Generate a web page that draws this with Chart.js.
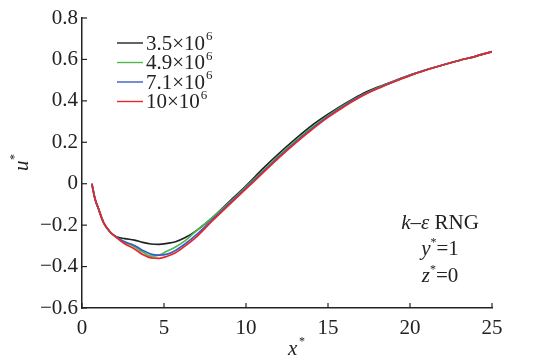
<!DOCTYPE html>
<html>
<head>
<meta charset="utf-8">
<script src="https://cdn.jsdelivr.net/npm/chart.js@4"></script>
<style>
  html, body { margin: 0; padding: 0; background: #fff; }
  #wrap { width: 542px; height: 364px; }
</style>
</head>
<body>
<div id="wrap"><canvas id="chart-u"></canvas></div>
<script>
// u* along x* for four Reynolds numbers (k-eps RNG, y*=1, z*=0)
const xStar = [0.6, 0.8, 1.0, 1.3, 1.7, 2.1, 2.6, 3.2, 3.7, 4.2, 4.7, 5.2, 5.7, 6.3, 7, 8, 9, 10, 11, 12, 13, 14, 15, 16, 17, 18, 19, 20, 21, 22, 23, 24, 25];
const uBlack = [0, -0.075, -0.12, -0.185, -0.232, -0.256, -0.265, -0.272, -0.283, -0.291, -0.293, -0.288, -0.28, -0.26, -0.225, -0.16, -0.085, -0.01, 0.07, 0.145, 0.215, 0.28, 0.335, 0.385, 0.43, 0.465, 0.495, 0.525, 0.55, 0.573, 0.595, 0.615, 0.638];
const uGreen = [0, -0.075, -0.12, -0.185, -0.232, -0.258, -0.282, -0.304, -0.33, -0.35, -0.345, -0.325, -0.305, -0.275, -0.225, -0.16, -0.09, -0.015, 0.06, 0.135, 0.205, 0.27, 0.328, 0.38, 0.425, 0.462, 0.494, 0.524, 0.55, 0.573, 0.595, 0.615, 0.638];
const uBlue = [0, -0.075, -0.12, -0.185, -0.232, -0.258, -0.28, -0.298, -0.322, -0.34, -0.345, -0.34, -0.322, -0.29, -0.245, -0.17, -0.095, -0.02, 0.055, 0.13, 0.2, 0.265, 0.325, 0.377, 0.423, 0.46, 0.493, 0.523, 0.55, 0.573, 0.595, 0.615, 0.638];
const uRed = [0, -0.075, -0.12, -0.185, -0.232, -0.26, -0.29, -0.315, -0.342, -0.358, -0.36, -0.35, -0.333, -0.3, -0.255, -0.175, -0.1, -0.025, 0.05, 0.125, 0.195, 0.26, 0.32, 0.373, 0.42, 0.458, 0.491, 0.522, 0.549, 0.573, 0.595, 0.615, 0.638];

const seriesBase = ['3.5×10', '4.9×10', '7.1×10', '10×10'];
const seriesExp = ['6', '6', '6', '6'];
const seriesColors = ['#222222', '#4cbb4c', '#3a5cc8', '#e8272b'];

const xTicks = [0, 5, 10, 15, 20, 25];
const yTicks = [-0.6, -0.4, -0.2, 0, 0.2, 0.4, 0.6, 0.8];

const SERIF = '"Liberation Serif", "DejaVu Serif", serif';
const FS = 21;

const toPts = ys => ys.map((y, i) => ({ x: xStar[i], y }));
const allSeries = [uBlack, uGreen, uBlue, uRed];

const datasets = allSeries.map((ys, i) => ({
    label: seriesBase[i] + seriesExp[i],
    data: toPts(ys),
    borderColor: seriesColors[i],
    borderWidth: 1.7,
    pointRadius: 0,
    cubicInterpolationMode: 'monotone',
    order: allSeries.length - i,
}));

// inward tick marks, legend and text labels
const decorPlugin = {
    id: 'decor',
    afterDraw(chart) {
        const { ctx, chartArea: a, scales } = chart;
        const xs = scales.x, ys = scales.y;
        ctx.save();
        ctx.strokeStyle = '#222';
        ctx.lineWidth = 1.2;
        for (const t of xTicks) {
            const px = xs.getPixelForValue(t);
            ctx.beginPath(); ctx.moveTo(px, a.bottom); ctx.lineTo(px, a.bottom - 5); ctx.stroke();
        }
        for (const t of yTicks) {
            const py = ys.getPixelForValue(t);
            ctx.beginPath(); ctx.moveTo(a.left, py); ctx.lineTo(a.left + 5, py); ctx.stroke();
        }

        // legend
        const lx = a.left + 35, ly0 = a.top + 25, step = 19.5;
        chart.data.datasets.forEach((ds, i) => {
            const y = ly0 + i * step;
            ctx.strokeStyle = ds.borderColor;
            ctx.lineWidth = 1.4;
            ctx.beginPath(); ctx.moveTo(lx, y); ctx.lineTo(lx + 26, y); ctx.stroke();
            ctx.fillStyle = '#222';
            ctx.textBaseline = 'middle';
            ctx.textAlign = 'left';
            ctx.font = FS + 'px ' + SERIF;
            const base = seriesBase[i];
            ctx.fillText(base, lx + 29, y + 1);
            const w = ctx.measureText(base).width;
            ctx.font = '13px ' + SERIF;
            ctx.fillText(seriesExp[i], lx + 30 + w, y - 6);
        });

        // axis titles
        ctx.fillStyle = '#222';
        ctx.textAlign = 'left';
        ctx.textBaseline = 'alphabetic';
        ctx.font = 'italic ' + FS + 'px ' + SERIF;
        ctx.fillText('x', 288, 355);
        ctx.font = '12px ' + SERIF;
        ctx.fillText('*', 299, 345);

        ctx.save();
        ctx.translate(28, 166);
        ctx.rotate(-Math.PI / 2);
        ctx.font = 'italic ' + FS + 'px ' + SERIF;
        ctx.fillText('u', -5, 0);
        ctx.font = '12px ' + SERIF;
        ctx.fillText('*', 6, -10);
        ctx.restore();

        // model annotation
        const cx = 440;
        const parts = [['k', true], ['–', false], ['ε', true], [' RNG', false]];
        let total = 0;
        const widths = parts.map(([s, it]) => {
            ctx.font = (it ? 'italic ' : '') + FS + 'px ' + SERIF;
            const w = ctx.measureText(s).width; total += w; return w;
        });
        let x0 = cx - total / 2;
        parts.forEach(([s, it], k) => {
            ctx.font = (it ? 'italic ' : '') + FS + 'px ' + SERIF;
            ctx.fillText(s, x0, 229);
            x0 += widths[k];
        });

        const eqLine = (v, rest, y) => {
            ctx.font = 'italic ' + FS + 'px ' + SERIF;
            const w1 = ctx.measureText(v).width;
            ctx.font = '12px ' + SERIF;
            const w2 = ctx.measureText('*').width;
            ctx.font = FS + 'px ' + SERIF;
            const w3 = ctx.measureText(rest).width;
            let x = cx - (w1 + w2 + w3) / 2;
            ctx.font = 'italic ' + FS + 'px ' + SERIF;
            ctx.fillText(v, x, y); x += w1;
            ctx.font = '12px ' + SERIF;
            ctx.fillText('*', x, y - 9); x += w2;
            ctx.font = FS + 'px ' + SERIF;
            ctx.fillText(rest, x, y);
        };
        eqLine('y', '=1', 255);
        eqLine('z', '=0', 282);
        ctx.restore();
    },
};

new Chart(document.getElementById('chart-u').getContext('2d'), {
    type: 'line',
    data: { datasets },
    plugins: [decorPlugin],
    options: {
        responsive: true,
        maintainAspectRatio: false,
        animation: false,
        layout: { padding: { top: 18, right: 50, bottom: 0, left: 0 } },
        plugins: { legend: { display: false }, tooltip: { enabled: false } },
        scales: {
            x: {
                type: 'linear',
                min: 0, max: 25,
                afterFit: s => { s.height = 56; },
                afterBuildTicks: s => { s.ticks = xTicks.map(v => ({ value: v })); },
                grid: { display: false, drawTicks: false },
                border: { display: true, color: '#222', width: 1.5 },
                ticks: { padding: 8, color: '#222', font: { family: SERIF, size: FS } },
            },
            y: {
                type: 'linear',
                min: -0.6, max: 0.8,
                afterFit: s => { s.width = 82; },
                afterBuildTicks: s => { s.ticks = yTicks.map(v => ({ value: v })); },
                grid: { display: false, drawTicks: false },
                border: { display: true, color: '#222', width: 1.5 },
                ticks: {
                    padding: 4, color: '#222', font: { family: SERIF, size: FS },
                    callback: v => v === 0 ? '0' : (v < 0 ? '−' + Math.abs(v).toFixed(1) : v.toFixed(1)),
                },
            },
        },
    },
});
</script>
</body>
</html>
